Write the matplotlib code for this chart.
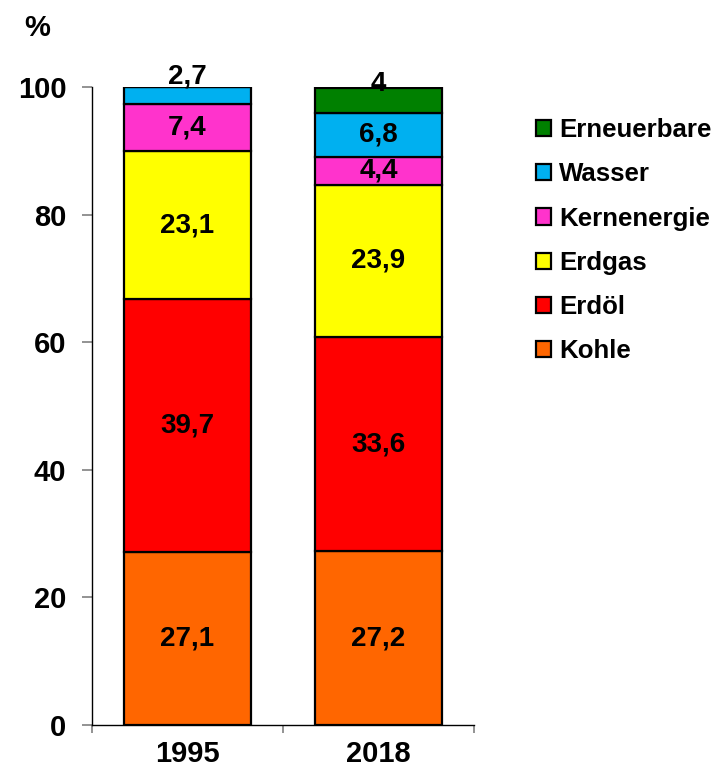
import matplotlib
matplotlib.use("Agg")
import matplotlib.pyplot as plt
import numpy as np

years = ["1995", "2018"]
sources = ["Kohle", "Erdöl", "Erdgas", "Kernenergie", "Wasser", "Erneuerbare"]
kohle = [27.1, 27.2]
erdoel = [39.7, 33.6]
erdgas = [23.1, 23.9]
kern = [7.4, 4.4]
wasser = [2.7, 6.8]
erneuerbare = [0.0, 4.0]
label_texts = {
    "Kohle": ["27,1", "27,2"],
    "Erdöl": ["39,7", "33,6"],
    "Erdgas": ["23,1", "23,9"],
    "Kernenergie": ["7,4", "4,4"],
    "Wasser": ["2,7", "6,8"],
    "Erneuerbare": ["", "4"],
}
colors = ["#FF6600", "#FF0000", "#FFFF00", "#FF33CC", "#00B0F0", "#008000"]

plt.rcParams['font.family'] = ['Liberation Sans', 'DejaVu Sans']
plt.rcParams['font.weight'] = 'bold'

fig = plt.figure(figsize=(7.16, 7.71), dpi=100)
ax = fig.add_axes([92/716, 1-725/771, (474-92)/716, (725-87)/771])

series = [kohle, erdoel, erdgas, kern, wasser, erneuerbare]
x = np.arange(len(years))
bottom = np.zeros(len(years))
handles = []
for name, vals, col in zip(sources, series, colors):
    vals = np.array(vals)
    bars = ax.bar(x, vals, bottom=bottom, width=0.67, color=col,
                  edgecolor='black', linewidth=1.6, label=name)
    handles.append(bars)
    for i, v in enumerate(vals):
        txt = label_texts[name][i]
        if not txt:
            continue
        yc = bottom[i] + v / 2
        if name == "Wasser" and i == 0:
            yc = bottom[i] + v + 1.7
        if name == "Erneuerbare":
            yc = bottom[i] + v + 0.5
        ax.text(x[i], yc, txt, ha='center', va='center', fontsize=20,
                fontweight='bold', color='black')
    bottom = bottom + vals

ax.set_xlim(-0.5, 1.5)
ax.set_ylim(0, 100)
ax.set_yticks([0, 20, 40, 60, 80, 100])
ax.set_yticklabels(["0", "20", "40", "60", "80", "100"], fontsize=21, fontweight='bold')
ax.tick_params(axis='y', direction='out', length=7.5, width=1.2, color='#808080', pad=11)
ax.set_xticks(x)
ax.set_xticklabels(years, fontsize=21, fontweight='bold')
ax.tick_params(axis='x', which='major', length=0, pad=11)
ax.set_xticks([-0.5, 0.5, 1.5], minor=True)
ax.tick_params(axis='x', which='minor', direction='out', length=6, width=1.2, color='#808080')
ax.spines['top'].set_visible(False)
ax.spines['right'].set_visible(False)
ax.spines['left'].set_linewidth(1.0)
ax.spines['bottom'].set_linewidth(1.0)

fig.text(37/716, 1-28/771, "%", ha='center', va='center', fontsize=21, fontweight='bold')

leg = fig.legend(handles[::-1], sources[::-1], loc='upper left',
                 bbox_to_anchor=(526/716, 1-108/771), frameon=False,
                 fontsize=18.6, handlelength=0.58, handleheight=0.58,
                 handletextpad=0.3, labelspacing=0.78, borderaxespad=0)
for t in leg.get_texts():
    t.set_fontweight('bold')

fig.savefig("out.png", dpi=100)
